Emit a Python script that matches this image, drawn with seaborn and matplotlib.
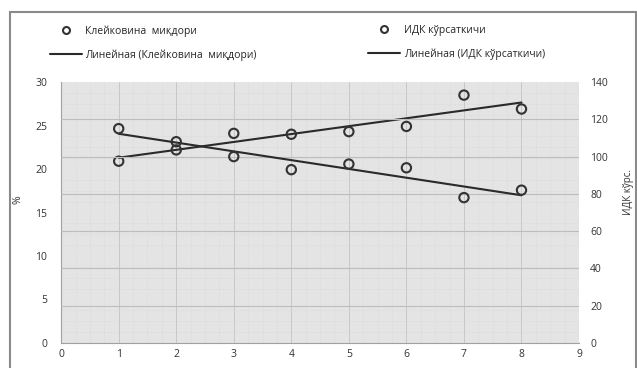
import numpy as np
import seaborn as sns
import matplotlib.pyplot as plt
from matplotlib.patches import Rectangle
from matplotlib.lines import Line2D

# data
x = [1, 2, 3, 4, 5, 6, 7, 8]
gluten = [20.9, 22.2, 24.1, 24.0, 24.3, 24.9, 28.5, 26.9]     # %, left axis
idk = [115, 108, 100, 93, 96, 94, 78, 82]                    # right axis
gluten_name = 'Клейковина  миқдори'
idk_name = 'ИДК кўрсаткичи'
left_ticks = [0, 5, 10, 15, 20, 25, 30]
right_ticks = [0, 20, 40, 60, 80, 100, 120, 140]
x_ticks = list(range(0, 10))

sns.set_style('white')
plt.rcParams['font.family'] = ['Open Sans', 'DejaVu Sans']

fig = plt.figure(figsize=(6.37, 3.68), dpi=100)
ax = fig.add_axes([0.096, 0.068, 0.813, 0.709])
ax2 = ax.twinx()

ax.set_facecolor('#e4e4e4')
ax.set_xlim(0, 9)
ax.set_ylim(0, 30)
ax2.set_ylim(0, 140)
ax.set_xticks(x_ticks)
ax.set_yticks(left_ticks)
ax2.set_yticks(right_ticks)

# grid: right-axis gridlines solid, vertical lines at integers, fine dotted grid
for v in right_ticks[1:-1]:
    ax2.axhline(v, color='#bdbdbd', lw=0.8, zorder=0)
for v in x_ticks[1:-1]:
    ax.axvline(v, color='#c8c8c8', lw=0.7, zorder=0)
ax.set_xticks(np.arange(0, 9.01, 0.25), minor=True)
ax.set_yticks(np.arange(0, 30.01, 1.25), minor=True)
ax.grid(which='minor', color='#d4d4d4', lw=0.5, ls=':')
ax.set_axisbelow(True)

# scatter points
sns.scatterplot(x=x, y=gluten, ax=ax, marker='o', s=45, facecolor='none',
                edgecolor='#333333', linewidth=1.5, zorder=3)
sns.scatterplot(x=x, y=idk, ax=ax2, marker='o', s=45, facecolor='none',
                edgecolor='#333333', linewidth=1.5, zorder=3)

# linear trend lines
xs = np.array([x[0], x[-1]])
k1, b1 = np.polyfit(x, gluten, 1)
k2, b2 = np.polyfit(x, idk, 1)
sns.lineplot(x=xs, y=k1 * xs + b1, ax=ax, color='#2a2a2a', lw=1.5)
sns.lineplot(x=xs, y=k2 * xs + b2, ax=ax2, color='#2a2a2a', lw=1.5)

for a in (ax, ax2):
    for s in a.spines.values():
        s.set_visible(False)
    a.tick_params(which='both', length=0, labelsize=7.5, colors='#333333')
ax.spines['bottom'].set_visible(True)
ax.spines['bottom'].set_color('#a0a0a0')
ax.spines['left'].set_visible(True)
ax.spines['left'].set_color('#a0a0a0')
ax.tick_params(axis='y', pad=10)
ax.tick_params(axis='x', pad=4)
ax2.tick_params(axis='y', pad=8)

ax.set_ylabel('%', fontsize=7.5, color='#333333')
ax.yaxis.set_label_coords(-0.072, 0.55)
ax2.set_ylabel('ИДК кўрс.', fontsize=7, color='#333333')
ax2.yaxis.set_label_coords(1.085, 0.58)

marker_h = Line2D([], [], marker='o', ls='none', mfc='none', mec='#333333', mew=1.5, ms=5)
line_h = Line2D([], [], color='#2a2a2a', lw=1.5)
leg_kw = dict(loc='upper left', frameon=False, fontsize=7.5, handlelength=3.1,
              labelspacing=1.2, handletextpad=0.3, borderpad=0, borderaxespad=0)
leg1 = fig.legend([marker_h, line_h], [gluten_name, 'Линейная (Клейковина  миқдори)'],
                  bbox_to_anchor=(0.0785, 0.932), **leg_kw)
leg2 = fig.legend([marker_h, line_h], [idk_name, 'Линейная (ИДК кўрсаткичи)'],
                  bbox_to_anchor=(0.578, 0.932), **leg_kw)

fig.patches.append(Rectangle((0.015, -0.01), 0.984, 0.977, transform=fig.transFigure,
                             fill=False, edgecolor='#8a8a8a', lw=1.5))

fig.savefig('out.png', dpi=100)
